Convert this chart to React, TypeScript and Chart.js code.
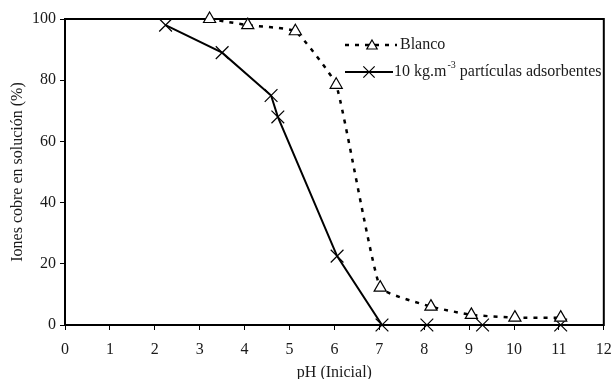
import React, { useEffect, useRef } from "react";
import { Chart, registerables } from "chart.js";

Chart.register(...registerables);

// ---- Data ----
const blancoPH = [3.22, 4.07, 5.13, 6.04, 7.02, 8.15, 9.05, 10.02, 11.04];
const blancoPct = [100, 98, 96, 78.5, 12.2, 6, 3.3, 2.4, 2.4];
const adsorbPH = [2.24, 3.5, 4.59, 4.74, 6.06, 7.06, 8.06, 9.3, 11.04];
const adsorbPct = [98, 89, 75, 68, 22.5, 0, 0, 0, 0];

const xTickValues = [0, 1, 2, 3, 4, 5, 6, 7, 8, 9, 10, 11, 12];
const yTickValues = [0, 20, 40, 60, 80, 100];

const seriesNames = ["Blanco", "10 kg.m-3 partículas adsorbentes"];
const legendMain = "10 kg.m";
const legendSup = "-3";
const legendRest = " partículas adsorbentes";
const xTitle = "pH (Inicial)";
const yTitle = "Iones cobre en solución (%)";

const FONT = "'Liberation Serif', 'Times New Roman', serif";
const TEXT = "#1a1a1a";
const FS = 16;

function drawTriangle(ctx: CanvasRenderingContext2D, x: number, y: number, r: number) {
  ctx.beginPath();
  ctx.moveTo(x, y - r);
  ctx.lineTo(x + Math.cos(Math.PI / 6) * r, y + r / 2);
  ctx.lineTo(x - Math.cos(Math.PI / 6) * r, y + r / 2);
  ctx.closePath();
  ctx.fillStyle = "#fff";
  ctx.fill();
  ctx.stroke();
}

function drawCross(ctx: CanvasRenderingContext2D, x: number, y: number, r: number) {
  const d = Math.cos(Math.PI / 4) * r;
  ctx.beginPath();
  ctx.moveTo(x - d, y - d);
  ctx.lineTo(x + d, y + d);
  ctx.moveTo(x + d, y - d);
  ctx.lineTo(x - d, y + d);
  ctx.stroke();
}

const framePlugin = {
  id: "frame",
  beforeDatasetsDraw(chart: any) {
    const { ctx, chartArea } = chart;
    ctx.save();
    ctx.strokeStyle = "#000";
    ctx.lineWidth = 2;
    ctx.strokeRect(chartArea.left, chartArea.top, chartArea.right - chartArea.left, chartArea.bottom - chartArea.top);
    ctx.restore();
  },
};

const legendPlugin = {
  id: "customLegend",
  afterDraw(chart: any) {
    const ctx: CanvasRenderingContext2D = chart.ctx;
    ctx.save();
    ctx.strokeStyle = "#000";
    ctx.fillStyle = TEXT;
    const y1 = 45;
    const y2 = 72;
    // Row 1: dashed + triangle
    ctx.lineWidth = 2.5;
    ctx.setLineDash([4, 6]);
    ctx.beginPath();
    ctx.moveTo(345, y1);
    ctx.lineTo(397, y1);
    ctx.stroke();
    ctx.setLineDash([]);
    ctx.lineWidth = 1.2;
    drawTriangle(ctx, 372, y1 + 1, 6);
    ctx.fillStyle = TEXT;
    ctx.font = `${FS}px ${FONT}`;
    ctx.textBaseline = "middle";
    ctx.textAlign = "left";
    ctx.fillText(seriesNames[0], 400, y1);
    // Row 2: solid + cross
    ctx.lineWidth = 2;
    ctx.beginPath();
    ctx.moveTo(345, y2);
    ctx.lineTo(393, y2);
    ctx.stroke();
    ctx.lineWidth = 1.2;
    drawCross(ctx, 369, y2, 8);
    ctx.font = `${FS}px ${FONT}`;
    let x = 394;
    ctx.fillText(legendMain, x, y2);
    x += ctx.measureText(legendMain).width + 1;
    ctx.font = `10px ${FONT}`;
    ctx.fillText(legendSup, x, y2 - 7);
    x += ctx.measureText(legendSup).width;
    ctx.font = `${FS}px ${FONT}`;
    ctx.fillText(legendRest, x, y2);
    ctx.restore();
  },
};

export default function App() {
  const ref = useRef<HTMLCanvasElement | null>(null);

  useEffect(() => {
    document.body.style.margin = "0";
    const canvas = ref.current;
    if (!canvas) return;
    const chart = new Chart(canvas, {
      type: "line",
      data: {
        datasets: [
          {
            label: seriesNames[0],
            data: blancoPH.map((x, i) => ({ x, y: blancoPct[i] })),
            borderColor: "#000",
            backgroundColor: "#fff",
            borderWidth: 2.5,
            borderDash: [4, 6],
            tension: 0.12,
            pointStyle: "triangle",
            pointRadius: 7,
            pointBorderWidth: 1.2,
            pointBorderColor: "#000",
            pointBackgroundColor: "#fff",
            clip: false,
          } as any,
          {
            label: seriesNames[1],
            data: adsorbPH.map((x, i) => ({ x, y: adsorbPct[i] })),
            borderColor: "#000",
            backgroundColor: "#000",
            borderWidth: 2,
            tension: 0,
            pointStyle: "crossRot",
            pointRadius: 9,
            pointBorderWidth: 1.2,
            pointBorderColor: "#000",
            clip: false,
          } as any,
        ],
      },
      options: {
        animation: false,
        responsive: false,
        devicePixelRatio: 1,
        layout: { padding: { top: 19, right: 9, left: 0, bottom: 0 } },
        plugins: {
          legend: { display: false },
          tooltip: { enabled: false },
        },
        scales: {
          x: {
            type: "linear",
            min: 0,
            max: 12,
            afterBuildTicks: (scale: any) => {
              scale.ticks = xTickValues.map((v) => ({ value: v }));
            },
            ticks: {
              color: TEXT,
              font: { family: FONT, size: FS },
              padding: 10,
              maxRotation: 0,
            },
            grid: { drawOnChartArea: false, drawTicks: true, tickLength: 5, color: "#000", lineWidth: 1 },
            border: { display: true, color: "#000", width: 2 },
            title: {
              display: true,
              text: xTitle,
              color: TEXT,
              font: { family: FONT, size: FS },
              padding: { top: 0, bottom: -3 },
            },
            afterFit: (scale: any) => {
              scale.height = 54;
              scale.paddingLeft = 0;
              scale.paddingRight = 0;
            },
          },
          y: {
            type: "linear",
            min: 0,
            max: 100,
            afterBuildTicks: (scale: any) => {
              scale.ticks = yTickValues.map((v) => ({ value: v }));
            },
            ticks: {
              color: TEXT,
              font: { family: FONT, size: FS },
              padding: 4,
            },
            grid: { drawOnChartArea: false, drawTicks: true, tickLength: 5, color: "#000", lineWidth: 1 },
            border: { display: true, color: "#000", width: 2 },
            title: {
              display: true,
              text: yTitle,
              color: TEXT,
              font: { family: FONT, size: FS },
              padding: { top: 8, bottom: 0 },
            },
            afterFit: (scale: any) => {
              scale.width = 65;
              scale.paddingTop = 0;
              scale.paddingBottom = 0;
            },
          },
        },
      } as any,
      plugins: [framePlugin, legendPlugin],
    });
    return () => chart.destroy();
  }, []);

  return (
    <div style={{ position: "fixed", left: 0, top: 0, width: 614, height: 379, background: "#fff" }}>
      <canvas ref={ref} width={614} height={379} style={{ width: 614, height: 379, display: "block" }} />
    </div>
  );
}
